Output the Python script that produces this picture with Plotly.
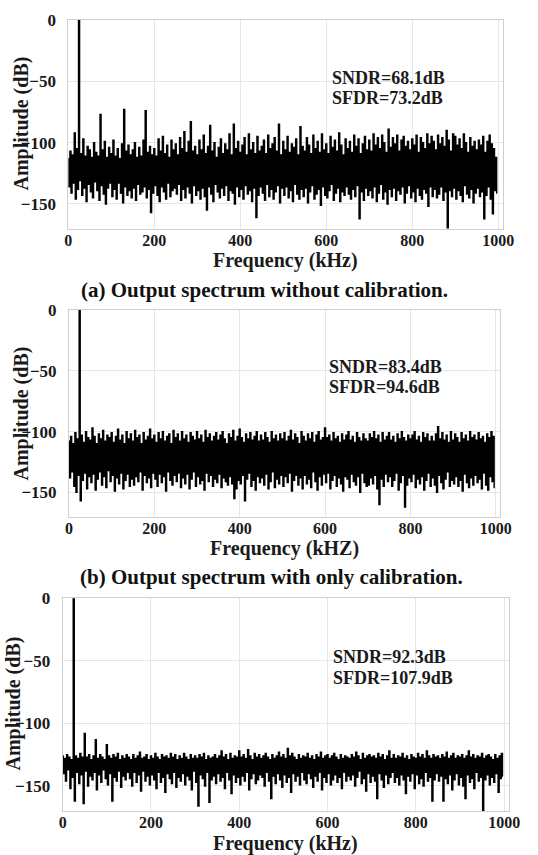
import plotly.graph_objects as go

# ---------------- data (dB) ----------------
# Each panel: values on a 2.5 kHz grid; "upper" = samples at 0,5,10,...kHz,
# "lower" = samples at 2.5,7.5,...kHz (the FFT bins alternate between them).
freq_step_khz = 2.5

a_upper = [
    -113, -107, -110, -92, -105, 0, -109, -97, -111, -103,
    -106, -112, -100, -108, -111, -77, -106, -99, -112, -104,
    -109, -98, -111, -105, -113, -101, -73, -107, -102, -110,
    -106, -100, -112, -104, -111, -98, -74, -108, -103, -110,
    -105, -111, -97, -107, -95, -109, -102, -112, -98, -106,
    -101, -110, -96, -105, -91, -108, -99, -83, -107, -103,
    -110, -98, -106, -94, -109, -103, -86, -107, -100, -112,
    -104, -97, -109, -101, -106, -93, -110, -85, -105, -99,
    -108, -102, -96, -110, -93, -106, -100, -109, -95, -107,
    -103, -98, -109, -94, -105, -101, -96, -107, -85, -110,
    -99, -106, -95, -108, -101, -104, -97, -110, -87, -103,
    -107, -96, -102, -109, -94, -105, -99, -108, -93, -106,
    -101, -109, -95, -104, -98, -107, -92, -102, -110, -97,
    -105, -99, -108, -94, -103, -97, -109, -101, -95, -106,
    -98, -107, -93, -102, -96, -105, -94, -100, -108, -89,
    -104, -96, -101, -94, -107, -98, -95, -103, -99, -106,
    -97, -102, -94, -108, -96, -100, -105, -93, -101, -95,
    -99, -106, -94, -101, -96, -103, -90, -98, -107, -93,
    -95, -102, -97, -105, -93, -100, -108, -96, -103, -99,
    -106, -98, -102, -95, -108, -99, -94, -101, -105, -112,
]
a_lower = [
    -136, -141, -133, -146, -138, -131, -143, -137, -148, -134,
    -140, -145, -132, -139, -147, -135, -142, -150, -137, -133,
    -144, -138, -146, -133, -141, -149, -136, -143, -139, -145,
    -137, -147, -134, -142, -140, -136, -145, -138, -157, -141,
    -135, -143, -148, -136, -140, -146, -133, -144, -139, -137,
    -142, -134, -147, -138, -145, -136, -141, -149, -135, -143,
    -139, -146, -137, -144, -155, -136, -142, -148, -134, -140,
    -145, -137, -143, -135, -147, -139, -141, -150, -136, -144,
    -138, -146, -135, -142, -139, -148, -137, -161, -143, -136,
    -141, -147, -134, -144, -138, -146, -140, -135, -149, -137,
    -143, -136, -145, -139, -148, -134, -142, -146, -138, -144,
    -137, -149, -140, -135, -146, -142, -138, -151, -136, -143,
    -145, -139, -134, -147, -141, -137, -148, -140, -143, -136,
    -142, -146, -138, -144, -135, -162, -140, -147, -137, -143,
    -139, -145, -136, -148, -141, -134, -146, -140, -150, -138,
    -144, -137, -147, -139, -142, -136, -149, -141, -135, -145,
    -140, -148, -137, -143, -146, -138, -141, -152, -136, -144,
    -138, -145, -142, -136, -147, -140, -170, -139, -144, -137,
    -146, -139, -143, -148, -135, -142, -145, -138, -149, -141,
    -137, -144, -140, -162, -143, -136, -146, -158, -139, -141,
]

b_upper = [
    -108, -104, -110, -101, -106, 0, -103, -109, -100, -105,
    -107, -97, -104, -110, -102, -106, -99, -108, -103, -105,
    -101, -109, -104, -98, -107, -103, -110, -100, -106, -102,
    -108, -99, -105, -103, -110, -101, -107, -104, -98, -106,
    -103, -109, -101, -106, -100, -108, -104, -102, -110, -99,
    -105, -102, -108, -100, -106, -103, -109, -101, -104, -107,
    -100, -106, -103, -109, -99, -105, -102, -108, -104, -101,
    -107, -103, -100, -106, -110, -102, -105, -99, -108, -104,
    -98, -105, -109, -102, -106, -101, -107, -104, -100, -108,
    -103, -107, -101, -105, -109, -100, -106, -103, -108, -102,
    -106, -101, -108, -104, -99, -107, -102, -105, -110, -100,
    -104, -108, -102, -106, -101, -109, -103, -100, -107, -105,
    -97, -105, -103, -108, -101, -106, -104, -109, -102, -107,
    -103, -100, -107, -104, -109, -101, -105, -108, -102, -106,
    -108, -102, -105, -100, -106, -103, -109, -101, -107, -104,
    -101, -107, -104, -109, -102, -106, -100, -105, -108, -103,
    -106, -103, -100, -107, -104, -109, -101, -105, -102, -108,
    -104, -108, -102, -96, -106, -101, -107, -103, -109, -100,
    -107, -102, -105, -109, -101, -106, -103, -108, -100, -105,
    -103, -107, -101, -106, -104, -109, -102, -105, -100, -104,
]
b_lower = [
    -138, -133, -145, -150, -136, -157, -140, -134, -147, -137,
    -142, -135, -148, -139, -133, -144, -137, -146, -132, -141,
    -136, -149, -138, -143, -134, -147, -140, -135, -145, -139,
    -144, -137, -141, -133, -148, -136, -142, -138, -146, -134,
    -139, -145, -135, -142, -137, -149, -133, -140, -144, -136,
    -141, -134, -146, -138, -143, -135, -147, -139, -133, -145,
    -137, -143, -140, -148, -134, -141, -136, -145, -139, -142,
    -135, -146, -138, -141, -144, -137, -143, -155, -147, -140,
    -143, -136, -157, -139, -134, -145, -140, -148, -137, -142,
    -138, -144, -135, -147, -141, -133, -146, -139, -143, -136,
    -145, -137, -142, -134, -149, -140, -136, -144, -138, -147,
    -136, -143, -139, -146, -133, -141, -148, -137, -144, -135,
    -142, -134, -147, -140, -136, -145, -138, -143, -149, -137,
    -139, -146, -135, -141, -144, -137, -150, -134, -142, -145,
    -144, -138, -143, -136, -147, -160, -139, -145, -135, -141,
    -137, -145, -140, -134, -148, -142, -136, -162, -144, -138,
    -141, -135, -146, -139, -143, -137, -148, -140, -134, -145,
    -138, -144, -150, -136, -142, -147, -139, -133, -145, -140,
    -143, -137, -145, -140, -149, -135, -142, -146, -138, -144,
    -136, -142, -139, -147, -134, -144, -148, -137, -141, -146,
]

c_upper = [
    -126, -128, -125, -127, -129, 0, -126, -128, -124, -127,
    -108, -127, -125, -129, -126, -113, -128, -125, -127, -129,
    -117, -126, -128, -125, -127, -124, -129, -126, -128, -125,
    -127, -129, -125, -128, -126, -123, -128, -127, -125, -129,
    -126, -128, -124, -127, -129, -125, -127, -126, -128, -124,
    -127, -125, -129, -126, -128, -124, -127, -129, -125, -128,
    -126, -128, -125, -127, -124, -129, -126, -128, -127, -125,
    -128, -126, -122, -127, -125, -129, -124, -128, -126, -127,
    -122, -127, -125, -128, -121, -126, -129, -124, -127, -125,
    -128, -126, -124, -127, -129, -125, -128, -126, -123, -127,
    -125, -128, -120, -126, -124, -127, -129, -125, -128, -126,
    -127, -124, -128, -126, -129, -125, -127, -123, -128, -126,
    -125, -128, -126, -124, -127, -129, -125, -128, -126, -127,
    -128, -125, -127, -123, -126, -129, -124, -128, -126, -125,
    -127, -126, -128, -124, -127, -125, -129, -126, -122, -128,
    -125, -128, -126, -127, -124, -128, -126, -129, -125, -127,
    -128, -124, -127, -125, -128, -122, -126, -128, -125, -127,
    -126, -128, -125, -127, -123, -128, -126, -124, -128, -126,
    -127, -125, -128, -126, -122, -127, -125, -128, -126, -127,
    -124, -128, -126, -125, -127, -129, -125, -128, -126, -124,
]
c_lower = [
    -140, -146, -137, -152, -143, -162, -139, -148, -141, -164,
    -138, -150, -142, -145, -139, -153, -141, -147, -137, -144,
    -149, -140, -162, -143, -146, -138, -151, -142, -145, -139,
    -144, -150, -139, -147, -141, -154, -138, -146, -142, -149,
    -141, -145, -152, -139, -147, -143, -155, -140, -144, -148,
    -139, -151, -143, -146, -140, -149, -142, -145, -153, -138,
    -147, -166, -141, -144, -150, -139, -163, -145, -142, -148,
    -140, -146, -143, -152, -139, -145, -156, -141, -147, -143,
    -149, -142, -146, -139, -153, -144, -140, -148, -145, -141,
    -143, -150, -139, -146, -160, -142, -148, -140, -145, -151,
    -141, -147, -143, -155, -140, -146, -142, -149, -139, -145,
    -148, -140, -144, -151, -142, -146, -139, -153, -143, -147,
    -140, -149, -145, -141, -147, -143, -152, -139, -146, -142,
    -145, -141, -150, -143, -138, -148, -144, -154, -140, -147,
    -142, -146, -160, -140, -145, -151, -141, -148, -143, -139,
    -147, -143, -149, -141, -145, -156, -142, -146, -140, -152,
    -141, -148, -144, -150, -139, -146, -143, -162, -145, -140,
    -146, -142, -162, -144, -148, -141, -153, -145, -140, -149,
    -143, -150, -160, -141, -147, -144, -152, -139, -146, -143,
    -170, -145, -141, -149, -143, -147, -140, -155, -144, -142,
]

x_ticks = [0, 200, 400, 600, 800, 1000]
y_ticks = [0, -50, -100, -150]
x_titles = ["Frequency (kHz)", "Frequency (kHZ)", "Frequency (kHz)"]
y_title = "Amplitude (dB)"
notes = [("SNDR=68.1dB", "SFDR=73.2dB"),
         ("SNDR=83.4dB", "SFDR=94.6dB"),
         ("SNDR=92.3dB", "SFDR=107.9dB")]
captions = ["(a) Output spectrum without calibration.",
            "(b) Output spectrum with only calibration."]


def interleave(upper, lower):
    ys = []
    for u, l in zip(upper, lower):
        ys.append(u)
        ys.append(l)
    return ys


panels = [(a_upper, a_lower), (b_upper, b_lower), (c_upper, c_lower)]

W, H = 538, 855
# plot-area pixel boxes: (left, right, top, bottom, x_max)
boxes = [(68.3, 503.0, 20.0, 228.5, 1011),
         (69.0, 500.0, 310.0, 516.7, 1010),
         (62.7, 509.0, 598.3, 811.0, 1011)]
# pixel centres of axis titles / captions
xtitle_pos = [(285.5, 260), (284.5, 548), (285.5, 843)]
ytitle_pos = [(21, 123.5), (21, 413.5), (13, 703.5)]
caption_pos = [(264, 290), (271, 577)]
note_x = [608, 604, 608]
note_y = [-47, -63.5]

SERIF = "Liberation Serif"
TXT = "#1a1a1a"


def bold(size, color=TXT):
    return dict(family=SERIF, size=size, color=color, weight="bold")


fig = go.Figure()
for i, ((up, lo), (l, r, t, b, xmax)) in enumerate(zip(panels, boxes)):
    n = len(up) * 2
    xs = [freq_step_khz * k for k in range(n)]
    ys = interleave(up, lo)
    sfx = "" if i == 0 else str(i + 1)
    fig.add_trace(go.Scatter(x=xs, y=ys, mode="lines",
                             line=dict(color="black", width=1.4,
                                       shape="hvh", simplify=False),
                             xaxis="x" + sfx, yaxis="y" + sfx,
                             showlegend=False, hoverinfo="skip"))
    axcommon = dict(showgrid=True, gridcolor="#e6e6e6", gridwidth=1,
                    zeroline=False, showline=True, linecolor="#cfcfcf",
                    linewidth=1, mirror=True, ticks="", automargin=False,
                    tickfont=bold(17))
    fig.update_layout(**{
        "xaxis" + sfx: dict(axcommon, domain=[l / W, r / W],
                            range=[0, xmax], tickvals=x_ticks,
                            anchor="y" + sfx, ticklabelstandoff=-3,
                            tickfont=bold(16)),
        "yaxis" + sfx: dict(axcommon, domain=[1 - b / H, 1 - t / H],
                            range=[-170, 0], tickvals=y_ticks,
                            anchor="x" + sfx, ticklabelstandoff=8),
    })
    for txt, yv in zip(notes[i], note_y):
        fig.add_annotation(x=note_x[i], y=yv, xref="x" + sfx,
                           yref="y" + sfx, text=txt, showarrow=False,
                           xanchor="left", yanchor="middle",
                           font=bold(18))
    fx, fy = xtitle_pos[i]
    fig.add_annotation(x=fx / W, y=1 - fy / H, xref="paper", yref="paper",
                       text=x_titles[i], showarrow=False,
                       xanchor="center", yanchor="middle", font=bold(20))
    gx, gy = ytitle_pos[i]
    fig.add_annotation(x=gx / W, y=1 - gy / H, xref="paper", yref="paper",
                       text=y_title, showarrow=False, textangle=-90,
                       xanchor="center", yanchor="middle", font=bold(20))

for cap, (cx, cy) in zip(captions, caption_pos):
    fig.add_annotation(x=cx / W, y=1 - cy / H, xref="paper", yref="paper",
                       text=cap, showarrow=False, xanchor="center",
                       yanchor="middle", font=bold(21, "#111"))

fig.update_layout(width=W, height=H, margin=dict(l=0, r=0, t=0, b=0),
                  paper_bgcolor="white", plot_bgcolor="white")
fig.write_html("out.html")
